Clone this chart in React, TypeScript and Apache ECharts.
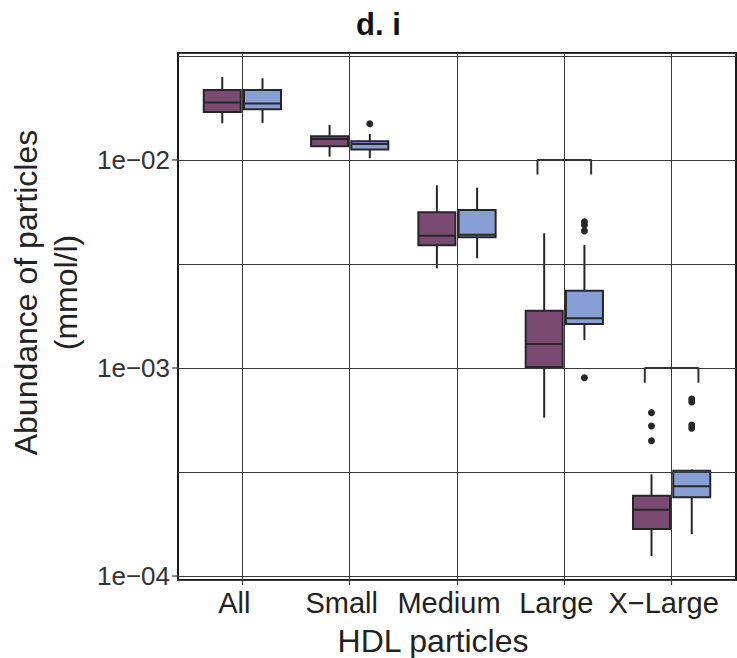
import React, { useEffect, useRef } from 'react';
import * as echarts from 'echarts';

// ---------- data ----------
const categories = ['All', 'Small', 'Medium', 'Large', 'X−Large'];
const groups = ['Group 1', 'Group 2'];

// purple group (left box in each category)
const purpleLow = [0.0150, 0.01037, 0.003015, 0.000577, 0.0001248];
const purpleQ1 = [0.0170, 0.01164, 0.00389, 0.001011, 0.0001683];
const purpleMedian = [0.01886, 0.01262, 0.004325, 0.001304, 0.0002084];
const purpleQ3 = [0.0217, 0.0130, 0.005605, 0.001886, 0.0002432];
const purpleHigh = [0.02506, 0.01473, 0.007556, 0.004442, 0.000308];
const purpleOutliers = [[], [], [], [], [0.00061, 0.000526, 0.000447]];

// blue group (right box in each category)
const blueLow = [0.01506, 0.01019, 0.003368, 0.001364, 0.000159];
const blueQ1 = [0.01752, 0.01121, 0.00425, 0.001627, 0.000239];
const blueMedian = [0.01866, 0.01194, 0.004374, 0.001733, 0.00027];
const blueQ3 = [0.0217, 0.0123, 0.005748, 0.002352, 0.000321];
const blueHigh = [0.0247, 0.01334, 0.007357, 0.003902, 0.000325];
const blueOutliers = [[], [0.01494], [], [0.00505, 0.00487, 0.00456, 0.000898], [0.00071, 0.000686, 0.000532, 0.000514]];

// significance brackets: category index, top value, tip value
const bracketCategory = [3, 4];
const bracketTop = [0.01, 0.001];
const bracketTip = [0.0085, 0.00085];

const yTickValues = [1e-4, 1e-3, 1e-2];
const yHalfDecades = [Math.pow(10, -3.5), Math.pow(10, -2.5), Math.pow(10, -1.5)];

// ---------- styling / layout constants ----------
const PURPLE = '#7b4a72';
const BLUE = '#889fd5';
const STROKE = '#262626';
const GRID_COLOR = '#3a3a3a';
const FONT = '"Liberation Sans", Arial, Helvetica, sans-serif';
const X_MIN = -0.6;
const X_MAX = 4.6;
const DODGE = 0.1875;
const BOX_W = 0.345;
const BRACKET_HALF = 0.25;

function boxData(low: number[], q1: number[], med: number[], q3: number[], high: number[], shift: number) {
  return categories.map((_, i) => [i + shift, low[i], q1[i], med[i], q3[i], high[i]]);
}

function outlierData(list: number[][], shift: number) {
  const out: number[][] = [];
  list.forEach((vals, i) => vals.forEach((v) => out.push([i + shift, v])));
  return out;
}

function renderBox(fill: string) {
  return (params: any, api: any) => {
    const x = api.value(0);
    const low = api.coord([x, api.value(1)]);
    const q1 = api.coord([x, api.value(2)]);
    const med = api.coord([x, api.value(3)]);
    const q3 = api.coord([x, api.value(4)]);
    const high = api.coord([x, api.value(5)]);
    const w = api.size([BOX_W, 0], [x, 0.01])[0];
    const cx = low[0];
    const ls = { stroke: STROKE, lineWidth: 2 };
    return {
      type: 'group',
      children: [
        { type: 'line', shape: { x1: cx, y1: high[1], x2: cx, y2: q3[1] }, style: ls },
        { type: 'line', shape: { x1: cx, y1: q1[1], x2: cx, y2: low[1] }, style: ls },
        { type: 'rect', shape: { x: cx - w / 2, y: q3[1], width: w, height: q1[1] - q3[1] }, style: { fill, stroke: STROKE, lineWidth: 2 } },
        { type: 'line', shape: { x1: cx - w / 2, y1: med[1], x2: cx + w / 2, y2: med[1] }, style: ls },
      ],
    };
  };
}

function renderYTick(params: any, api: any) {
  const p = api.coord([api.value(0), api.value(1)]);
  return {
    type: 'line',
    shape: { x1: p[0] - 6, y1: p[1], x2: p[0], y2: p[1] },
    style: { stroke: GRID_COLOR, lineWidth: 1.2 },
  };
}

function yLabel(v: number) {
  const e = Math.round(Math.log10(v));
  return '1e−' + String(-e).padStart(2, '0');
}

export default function App() {
  const ref = useRef<HTMLDivElement>(null);

  useEffect(() => {
    if (!ref.current) return;
    const chart = echarts.init(ref.current, null, { renderer: 'svg' });

    const bracketSeries = bracketCategory.map((c, k) => ({
      type: 'line',
      name: 'bracket' + k,
      data: [
        [c - BRACKET_HALF, bracketTip[k]],
        [c - BRACKET_HALF, bracketTop[k]],
        [c + BRACKET_HALF, bracketTop[k]],
        [c + BRACKET_HALF, bracketTip[k]],
      ],
      symbol: 'none',
      lineStyle: { color: '#333', width: 2 },
      silent: true,
      z: 5,
    }));

    const option: any = {
      animation: false,
      title: {
        text: 'd. i',
        left: 351,
        top: 4,
        textStyle: { fontFamily: FONT, fontSize: 31, fontWeight: 'bold', color: '#111' },
      },
      grid: {
        show: true,
        left: 178,
        top: 53,
        width: 558,
        height: 527,
        borderColor: '#1a1a1a',
        borderWidth: 2,
        backgroundColor: 'transparent',
        containLabel: false,
        outerBoundsMode: 'none',
      },
      xAxis: {
        type: 'value',
        min: X_MIN,
        max: X_MAX,
        name: 'HDL particles',
        nameLocation: 'middle',
        nameGap: 45,
        nameTextStyle: { fontFamily: FONT, fontSize: 32, color: '#222', padding: [0, 48, 0, 0] },
        axisLine: { show: false },
        axisTick: { show: true, length: 5, customValues: [0, 1, 2, 3, 4], lineStyle: { color: GRID_COLOR, width: 1.2 } },
        axisLabel: {
          customValues: [0, 1, 2, 3, 4],
          formatter: (v: number) => categories[Math.round(v)] ?? '',
          fontFamily: FONT,
          fontSize: 29,
          color: '#222',
          margin: 8,
          padding: [0, 16, 0, 0],
        },
        splitLine: { show: true, lineStyle: { color: GRID_COLOR, width: 1 } },
      },
      yAxis: {
        type: 'log',
        logBase: 10,
        min: Math.pow(10, -4.019),
        max: Math.pow(10, -1.486),
        name: 'Abundance of particles\n(mmol/l)',
        nameLocation: 'middle',
        nameGap: 73,
        nameRotate: 90,
        nameTextStyle: { fontFamily: FONT, fontSize: 32, color: '#222', lineHeight: 40, padding: [0, 0, 0, 48] },
        axisLine: { show: false },
        axisTick: { show: false },
        axisLabel: {
          formatter: yLabel,
          showMinLabel: false,
          showMaxLabel: false,
          fontFamily: FONT,
          fontSize: 26,
          color: '#333',
          margin: 8,
        },
        splitLine: { show: true, lineStyle: { color: GRID_COLOR, width: 1 } },
      },
      series: [
        {
          type: 'line',
          name: 'half-decade grid',
          data: [],
          symbol: 'none',
          silent: true,
          z: 1,
          markLine: {
            symbol: 'none',
            silent: true,
            precision: 12,
            label: { show: false },
            lineStyle: { color: GRID_COLOR, width: 1, type: 'solid' },
            data: yHalfDecades.map((v) => ({ yAxis: v })),
          },
        },
        {
          type: 'custom',
          name: 'y ticks',
          data: yTickValues.map((v) => [X_MIN, v]),
          renderItem: renderYTick,
          clip: false,
          silent: true,
          z: 3,
        },
        {
          type: 'custom',
          name: groups[0],
          data: boxData(purpleLow, purpleQ1, purpleMedian, purpleQ3, purpleHigh, -DODGE),
          encode: { x: 0, y: [1, 2, 3, 4, 5] },
          renderItem: renderBox(PURPLE),
          z: 3,
        },
        {
          type: 'custom',
          name: groups[1],
          data: boxData(blueLow, blueQ1, blueMedian, blueQ3, blueHigh, DODGE),
          encode: { x: 0, y: [1, 2, 3, 4, 5] },
          renderItem: renderBox(BLUE),
          z: 3,
        },
        {
          type: 'scatter',
          name: groups[0] + ' outliers',
          data: outlierData(purpleOutliers, -DODGE),
          symbolSize: 7,
          itemStyle: { color: STROKE, opacity: 1 },
          z: 4,
        },
        {
          type: 'scatter',
          name: groups[1] + ' outliers',
          data: outlierData(blueOutliers, DODGE),
          symbolSize: 7,
          itemStyle: { color: STROKE, opacity: 1 },
          z: 4,
        },
        ...bracketSeries,
      ],
    };

    chart.setOption(option);
    return () => chart.dispose();
  }, []);

  return (
    <div
      ref={ref}
      style={{ position: 'fixed', left: 0, top: 0, width: 737, height: 658, background: '#fff' }}
    />
  );
}
